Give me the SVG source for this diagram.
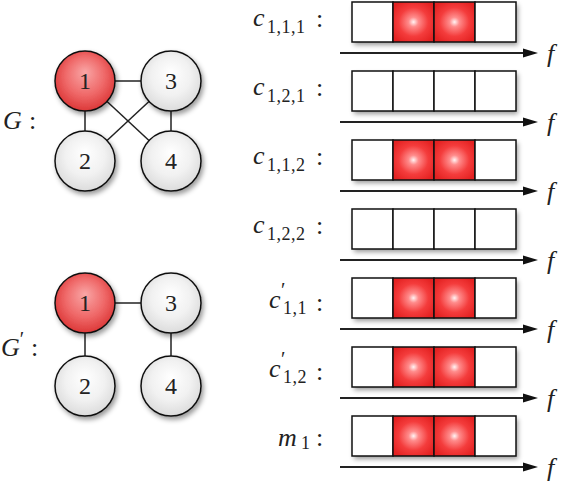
<svg xmlns="http://www.w3.org/2000/svg" width="568" height="488" viewBox="0 0 568 488">
  <style>
    .edge { stroke: #222; stroke-width: 1.5; fill: none; }
    .node { stroke: #111; stroke-width: 1.5; }
    .grey { fill: url(#greyFill); }
    .red { fill: url(#redFill); }
    .num { font-size: 24px; fill: #222; text-anchor: middle; }
    .math { font-style: italic; font-size: 26px; fill: #222; }
    .sub { font-style: normal; font-size: 18px; fill: #222; letter-spacing: 0.5px; }
    .colon { font-size: 26px; fill: #222; }
    .cell { fill: #fff; stroke: #111; stroke-width: 1.5; }
    .hot { fill: url(#cellFill); stroke: #111; stroke-width: 1.5; }
    .axis { stroke: #222; stroke-width: 2; }
    .head { fill: #111; }
  </style>
  <defs>
    <radialGradient id="greyFill" cx="0.5" cy="0.45" r="0.55" fx="0.5" fy="0.35">
      <stop offset="0" stop-color="#ffffff"/>
      <stop offset="0.6" stop-color="#f1f1f1"/>
      <stop offset="1" stop-color="#dcdcdc"/>
    </radialGradient>
    <radialGradient id="redFill" cx="0.5" cy="0.45" r="0.55" fx="0.5" fy="0.35">
      <stop offset="0" stop-color="#f9a6a6"/>
      <stop offset="0.6" stop-color="#ef6868"/>
      <stop offset="1" stop-color="#dc3838"/>
    </radialGradient>
    <radialGradient id="cellFill" cx="0.5" cy="0.5" r="0.6">
      <stop offset="0" stop-color="#fff4f4"/>
      <stop offset="0.2" stop-color="#ff8c8c"/>
      <stop offset="0.6" stop-color="#f43c3c"/>
      <stop offset="1" stop-color="#e42222"/>
    </radialGradient>
    <filter id="shadow" x="-20%" y="-20%" width="150%" height="160%">
      <feDropShadow dx="2" dy="3" stdDeviation="2.5" flood-color="#000" flood-opacity="0.4"/>
    </filter>
    <!-- one frequency band: four cells, the middle two lit -->
    <g id="barHot">
      <g filter="url(#shadow)">
        <rect x="352" y="0" width="164" height="40" fill="#fff"/>
      </g>
      <rect class="cell" x="352" y="0" width="41" height="40"/>
      <rect class="hot" x="393" y="0" width="41" height="40"/>
      <rect class="hot" x="434" y="0" width="41" height="40"/>
      <rect class="cell" x="475" y="0" width="41" height="40"/>
    </g>
    <g id="barCold">
      <g filter="url(#shadow)">
        <rect x="352" y="0" width="164" height="40" fill="#fff"/>
      </g>
      <rect class="cell" x="352" y="0" width="41" height="40"/>
      <rect class="cell" x="393" y="0" width="41" height="40"/>
      <rect class="cell" x="434" y="0" width="41" height="40"/>
      <rect class="cell" x="475" y="0" width="41" height="40"/>
    </g>
    <!-- frequency axis below each band -->
    <g id="axis">
      <line class="axis" x1="340" y1="51" x2="526" y2="51"/>
      <polygon class="head" points="538,51 523,46.5 523,55.5"/>
      <text class="math" font-family="Liberation Serif" x="547" y="60" font-size="24">f</text>
    </g>
  </defs>

  <!-- graph G -->
  <g id="edges-G">
    <line class="edge" x1="85" y1="81" x2="171" y2="81"/>
    <line class="edge" x1="85" y1="81" x2="85" y2="161"/>
    <line class="edge" x1="171" y1="81" x2="171" y2="161"/>
    <line class="edge" x1="85" y1="81" x2="171" y2="161"/>
    <line class="edge" x1="171" y1="81" x2="85" y2="161"/>
  </g>
  <g id="G-n1"><circle class="node red" cx="85" cy="81" r="30" filter="url(#shadow)"/><text class="num" font-family="Liberation Serif" x="85" y="89">1</text></g>
  <g id="G-n3"><circle class="node grey" cx="171" cy="81" r="30" filter="url(#shadow)"/><text class="num" font-family="Liberation Serif" x="171" y="89">3</text></g>
  <g id="G-n2"><circle class="node grey" cx="85" cy="161" r="30" filter="url(#shadow)"/><text class="num" font-family="Liberation Serif" x="85" y="169">2</text></g>
  <g id="G-n4"><circle class="node grey" cx="171" cy="161" r="30" filter="url(#shadow)"/><text class="num" font-family="Liberation Serif" x="171" y="169">4</text></g>
  <g id="G-label">
    <text class="math" font-family="Liberation Serif" x="3" y="129">G</text>
    <text class="colon" font-family="Liberation Serif" x="29" y="129">:</text>
  </g>

  <!-- graph G' -->
  <g id="edges-Gp">
    <line class="edge" x1="85" y1="303" x2="171" y2="303"/>
    <line class="edge" x1="85" y1="303" x2="85" y2="386"/>
    <line class="edge" x1="171" y1="303" x2="171" y2="386"/>
  </g>
  <g id="Gp-n1"><circle class="node red" cx="85" cy="303" r="30" filter="url(#shadow)"/><text class="num" font-family="Liberation Serif" x="85" y="311">1</text></g>
  <g id="Gp-n3"><circle class="node grey" cx="171" cy="303" r="30" filter="url(#shadow)"/><text class="num" font-family="Liberation Serif" x="171" y="311">3</text></g>
  <g id="Gp-n2"><circle class="node grey" cx="85" cy="386" r="30" filter="url(#shadow)"/><text class="num" font-family="Liberation Serif" x="85" y="394">2</text></g>
  <g id="Gp-n4"><circle class="node grey" cx="171" cy="386" r="30" filter="url(#shadow)"/><text class="num" font-family="Liberation Serif" x="171" y="394">4</text></g>
  <g id="Gp-label">
    <text class="math" font-family="Liberation Serif" x="1" y="356">G<tspan font-style="normal" font-size="20" dy="-10">′</tspan></text>
    <text class="colon" font-family="Liberation Serif" x="31" y="356">:</text>
  </g>

  <!-- channel rows -->
  <g id="row-c111" transform="translate(0,2)" font-family="Liberation Serif">
    <use href="#barHot"/><use href="#axis"/>
    <text class="math" font-family="Liberation Serif" x="253" y="24">c<tspan class="sub" x="267" y="31">1,1,1</tspan></text>
    <text class="colon" font-family="Liberation Serif" x="316" y="25">:</text>
  </g>
  <g id="row-c121" transform="translate(0,71)" font-family="Liberation Serif">
    <use href="#barCold"/><use href="#axis"/>
    <text class="math" font-family="Liberation Serif" x="253" y="24">c<tspan class="sub" x="267" y="31">1,2,1</tspan></text>
    <text class="colon" font-family="Liberation Serif" x="316" y="25">:</text>
  </g>
  <g id="row-c112" transform="translate(0,140)" font-family="Liberation Serif">
    <use href="#barHot"/><use href="#axis"/>
    <text class="math" font-family="Liberation Serif" x="253" y="24">c<tspan class="sub" x="267" y="31">1,1,2</tspan></text>
    <text class="colon" font-family="Liberation Serif" x="316" y="25">:</text>
  </g>
  <g id="row-c122" transform="translate(0,209)" font-family="Liberation Serif">
    <use href="#barCold"/><use href="#axis"/>
    <text class="math" font-family="Liberation Serif" x="253" y="24">c<tspan class="sub" x="267" y="31">1,2,2</tspan></text>
    <text class="colon" font-family="Liberation Serif" x="316" y="25">:</text>
  </g>
  <g id="row-cp11" transform="translate(0,278)" font-family="Liberation Serif">
    <use href="#barHot"/><use href="#axis"/>
    <text class="math" font-family="Liberation Serif" x="269" y="30">c<tspan font-style="normal" font-size="20" x="281" y="19">′</tspan><tspan class="sub" x="283" y="36">1,1</tspan></text>
    <text class="colon" font-family="Liberation Serif" x="316" y="33">:</text>
  </g>
  <g id="row-cp12" transform="translate(0,347)" font-family="Liberation Serif">
    <use href="#barHot"/><use href="#axis"/>
    <text class="math" font-family="Liberation Serif" x="269" y="30">c<tspan font-style="normal" font-size="20" x="281" y="19">′</tspan><tspan class="sub" x="283" y="36">1,2</tspan></text>
    <text class="colon" font-family="Liberation Serif" x="316" y="33">:</text>
  </g>
  <g id="row-m1" transform="translate(0,416)" font-family="Liberation Serif">
    <use href="#barHot"/><use href="#axis"/>
    <text class="math" font-family="Liberation Serif" x="278" y="30">m<tspan class="sub" x="301" y="33">1</tspan></text>
    <text class="colon" font-family="Liberation Serif" x="316" y="30">:</text>
  </g>
</svg>
